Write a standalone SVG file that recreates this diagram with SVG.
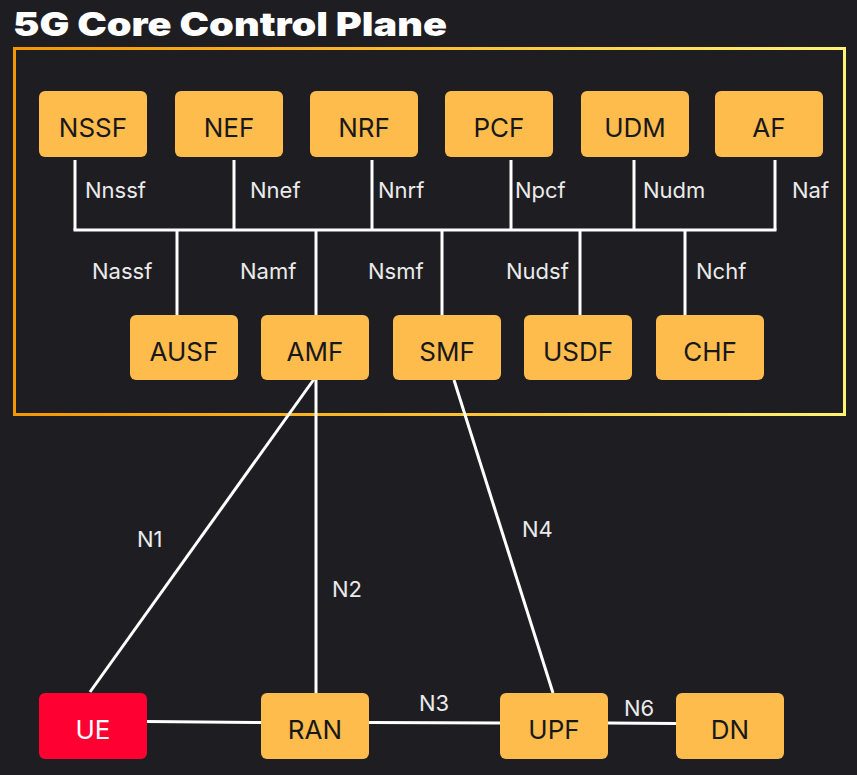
<svg xmlns="http://www.w3.org/2000/svg" width="857" height="775" viewBox="0 0 857 775">
  <defs>
    <linearGradient id="frameGrad" gradientUnits="userSpaceOnUse" x1="14" y1="0" x2="845" y2="0">
      <stop offset="0" stop-color="#f59800"/>
      <stop offset="0.5" stop-color="#fbbf2e"/>
      <stop offset="1" stop-color="#fff372"/>
    </linearGradient>
    <style>
      .node rect { fill: #fdbc4c; }
      .node text { font-family: Inter, "Noto Sans", "Liberation Sans", sans-serif; font-size: 26px; fill: #18181b; text-anchor: middle; }
      .ue rect { fill: #fe0032; }
      .ue text { fill: #ffffff; }
      .conn line, .conn path { stroke: #ffffff; stroke-width: 3; fill: none; }
      .lbl { font-family: Inter, "Noto Sans", "Liberation Sans", sans-serif; font-size: 22px; fill: #ebebeb; }
      .title { font-family: Inter, "Noto Sans", "Liberation Sans", sans-serif; font-size: 33px; font-weight: 900; fill: #ffffff; }
    </style>
  </defs>
  <rect width="857" height="775" fill="#1e1e22"/>
  <text class="title" x="13" y="36" textLength="434" lengthAdjust="spacingAndGlyphs">5G Core Control Plane</text>
  <rect x="14.5" y="48.5" width="830" height="366" fill="none" stroke="url(#frameGrad)" stroke-width="3"/>

  <g id="connectors" class="conn">
    <line x1="75" y1="160" x2="75" y2="230"/>
    <line x1="234" y1="160" x2="234" y2="230"/>
    <line x1="372" y1="160" x2="372" y2="230"/>
    <line x1="511" y1="160" x2="511" y2="230"/>
    <line x1="634" y1="160" x2="634" y2="230"/>
    <line x1="775" y1="160" x2="775" y2="230"/>
    <line x1="73.5" y1="230" x2="776.5" y2="230"/>
    <line x1="177" y1="230" x2="177" y2="316"/>
    <line x1="316" y1="230" x2="316" y2="316"/>
    <line x1="442" y1="230" x2="442" y2="316"/>
    <line x1="580" y1="230" x2="580" y2="316"/>
    <line x1="685" y1="230" x2="685" y2="316"/>
    <line x1="317" y1="375" x2="90" y2="692"/>
    <line x1="316" y1="380" x2="316" y2="693"/>
    <line x1="454" y1="380" x2="553" y2="693"/>
    <line x1="147" y1="721.5" x2="261" y2="722.5"/>
    <line x1="369" y1="722.5" x2="500" y2="723"/>
    <line x1="608" y1="723" x2="676" y2="723.5"/>
  </g>

  <g id="labels">
    <text class="lbl" x="85" y="198">Nnssf</text>
    <text class="lbl" x="250" y="198">Nnef</text>
    <text class="lbl" x="378" y="198">Nnrf</text>
    <text class="lbl" x="515" y="198">Npcf</text>
    <text class="lbl" x="643" y="198">Nudm</text>
    <text class="lbl" x="792" y="198">Naf</text>
    <text class="lbl" x="92" y="279">Nassf</text>
    <text class="lbl" x="240" y="279">Namf</text>
    <text class="lbl" x="368" y="279">Nsmf</text>
    <text class="lbl" x="506" y="279">Nudsf</text>
    <text class="lbl" x="696" y="279">Nchf</text>
    <text class="lbl" x="137" y="547">N1</text>
    <text class="lbl" x="332" y="597">N2</text>
    <text class="lbl" x="522" y="537">N4</text>
    <text class="lbl" x="419" y="711">N3</text>
    <text class="lbl" x="624" y="716">N6</text>
  </g>

  <g id="NSSF" class="node"><rect x="39" y="91" width="108" height="66" rx="6"/><text x="93" y="137">NSSF</text></g>
  <g id="NEF" class="node"><rect x="175" y="91" width="108" height="66" rx="6"/><text x="229" y="137">NEF</text></g>
  <g id="NRF" class="node"><rect x="310" y="91" width="108" height="66" rx="6"/><text x="364" y="137">NRF</text></g>
  <g id="PCF" class="node"><rect x="445" y="91" width="108" height="66" rx="6"/><text x="499" y="137">PCF</text></g>
  <g id="UDM" class="node"><rect x="581" y="91" width="108" height="66" rx="6"/><text x="635" y="137">UDM</text></g>
  <g id="AF" class="node"><rect x="715" y="91" width="108" height="66" rx="6"/><text x="769" y="137">AF</text></g>

  <g id="AUSF" class="node"><rect x="130" y="315" width="108" height="65" rx="6"/><text x="184" y="361">AUSF</text></g>
  <g id="AMF" class="node"><rect x="261" y="315" width="108" height="65" rx="6"/><text x="315" y="361">AMF</text></g>
  <g id="SMF" class="node"><rect x="393" y="315" width="108" height="65" rx="6"/><text x="447" y="361">SMF</text></g>
  <g id="USDF" class="node"><rect x="524" y="315" width="108" height="65" rx="6"/><text x="578" y="361">USDF</text></g>
  <g id="CHF" class="node"><rect x="656" y="315" width="108" height="65" rx="6"/><text x="710" y="361">CHF</text></g>

  <g id="UE" class="node ue"><rect x="39" y="693" width="108" height="66" rx="6"/><text x="93" y="739">UE</text></g>
  <g id="RAN" class="node"><rect x="261" y="693" width="108" height="66" rx="6"/><text x="315" y="739">RAN</text></g>
  <g id="UPF" class="node"><rect x="500" y="693" width="108" height="66" rx="6"/><text x="554" y="739">UPF</text></g>
  <g id="DN" class="node"><rect x="676" y="693" width="108" height="66" rx="6"/><text x="730" y="739">DN</text></g>
</svg>
